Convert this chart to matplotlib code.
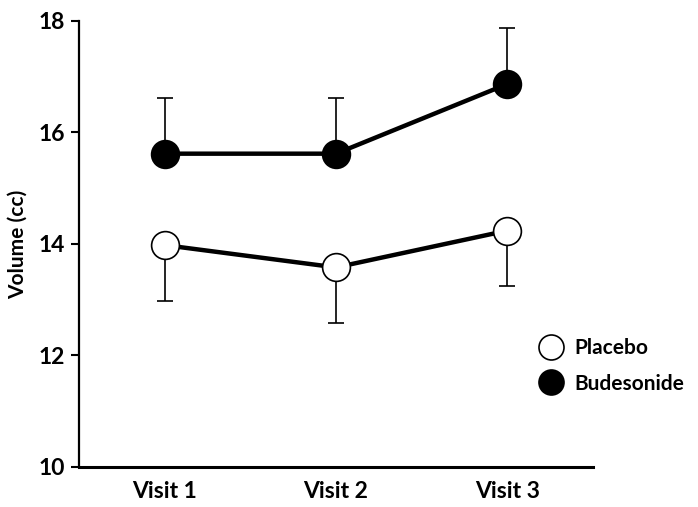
import matplotlib
matplotlib.use("Agg")
import matplotlib.pyplot as plt
from matplotlib.lines import Line2D
import numpy as np

plt.rcParams['font.family'] = ['Lato', 'DejaVu Sans']
plt.rcParams['font.weight'] = 'bold'

visits = ["Visit 1", "Visit 2", "Visit 3"]
placebo = [13.98, 13.58, 14.24]
placebo_sd = [1.0, 1.0, 1.0]
budesonide = [15.62, 15.62, 16.87]
budesonide_sd = [1.0, 1.0, 1.0]
yticks = [10, 12, 14, 16, 18]

x = np.arange(1, len(visits) + 1)

fig = plt.figure(figsize=(6.98, 5.07), dpi=100)
ax = fig.add_axes([0.1132, 0.0789, 0.7364, 0.8797])

# placebo: lower error bars only
ax.errorbar(x, placebo, yerr=[placebo_sd, [0] * len(x)], fmt='none',
            ecolor='black', elinewidth=1.2, capsize=6, capthick=1.2, zorder=1)
# budesonide: upper error bars only
ax.errorbar(x, budesonide, yerr=[[0] * len(x), budesonide_sd], fmt='none',
            ecolor='black', elinewidth=1.2, capsize=6, capthick=1.2, zorder=1)

ax.plot(x, placebo, color='black', lw=3.2, marker='o', markersize=20,
        markerfacecolor='white', markeredgecolor='black', markeredgewidth=1.2,
        zorder=3)
ax.plot(x, budesonide, color='black', lw=3.2, marker='o', markersize=20,
        markerfacecolor='black', markeredgecolor='black', markeredgewidth=1.2,
        zorder=3)

ax.set_xlim(0.5, 3.5)
ax.set_ylim(10, 18)
ax.set_xticks(x)
ax.set_xticklabels(visits, fontsize=16.5, fontweight='bold')
ax.set_yticks(yticks)
ax.set_yticklabels([str(t) for t in yticks], fontsize=16.5, fontweight='bold')
ax.tick_params(axis='x', length=0, pad=10)
ax.tick_params(axis='y', length=6, width=1.5, pad=4)
ax.set_ylabel("Volume (cc)", fontsize=15, fontweight='bold', labelpad=8)

for side in ['top', 'right']:
    ax.spines[side].set_visible(False)
ax.spines['left'].set_linewidth(1.6)
ax.spines['bottom'].set_linewidth(2.2)

handles = [
    Line2D([], [], linestyle='none', marker='o', markersize=18,
           markerfacecolor='white', markeredgecolor='black', markeredgewidth=1.2),
    Line2D([], [], linestyle='none', marker='o', markersize=18,
           markerfacecolor='black', markeredgecolor='black', markeredgewidth=1.2),
]
fig.legend(handles, ["Placebo", "Budesonide"], loc='upper left',
           bbox_to_anchor=(0.745, 0.37), frameon=False,
           prop={'size': 15, 'weight': 'bold'}, handletextpad=0.5,
           labelspacing=0.75, handlelength=1.2)

fig.savefig("out.png", dpi=100, facecolor='white')
